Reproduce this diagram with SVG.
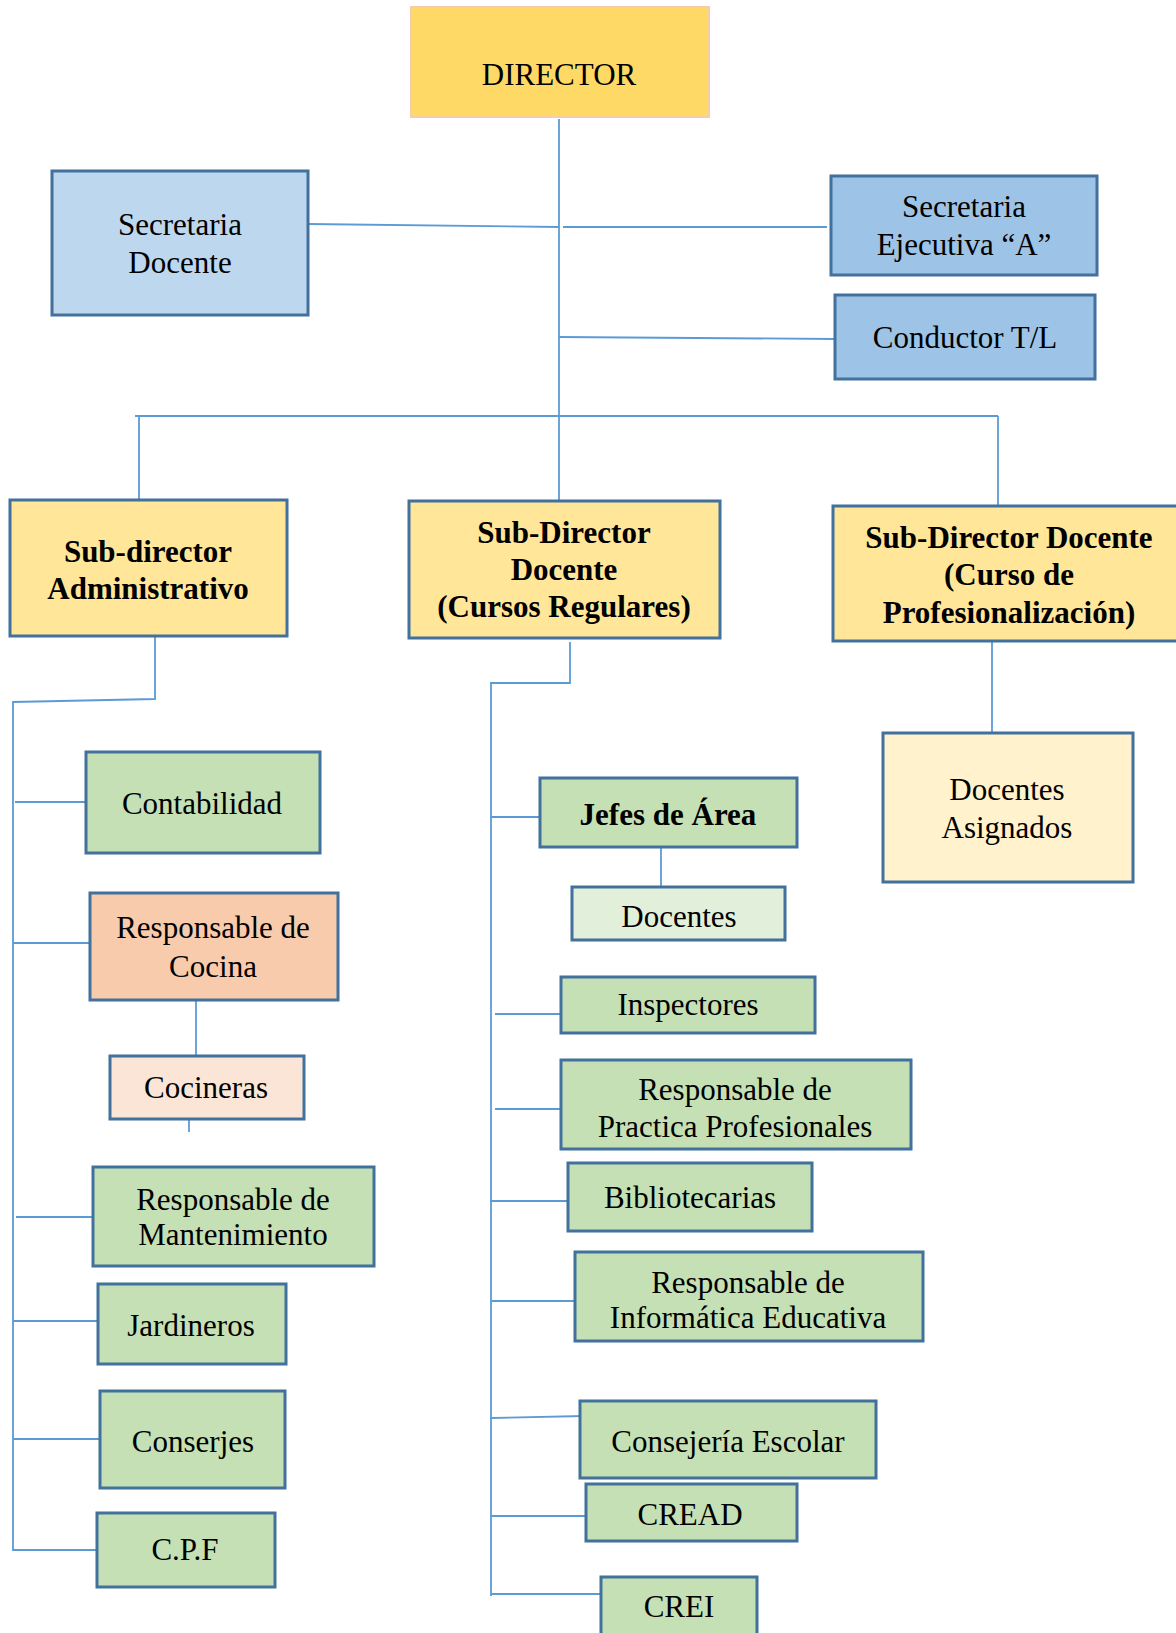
<svg xmlns="http://www.w3.org/2000/svg" width="1176" height="1633" viewBox="0 0 1176 1633">
<style>
.box{stroke:#41719C;stroke-width:3}
.g{fill:#C5E0B4}
.t{font-family:"Liberation Serif","Times New Roman",serif;font-size:31px;fill:#000;text-anchor:middle}
.b{font-weight:bold}
.c{fill:none;stroke:#5B9BD5;stroke-width:1.8}
</style>
<rect width="1176" height="1633" fill="#fff"/>
<g id="connectors">
<path class="c" d="M559 119V500"/>
<path class="c" d="M308 224L559 227"/>
<path class="c" d="M563 227H827"/>
<path class="c" d="M559 337L835 339"/>
<path class="c" d="M135 416H998"/>
<path class="c" d="M139 416V500"/>
<path class="c" d="M998 416V506"/>
<path class="c" d="M992 641V733"/>
<path class="c" d="M155 636V699L13 702V1551"/>
<path class="c" d="M15 802H86"/>
<path class="c" d="M13 943H90"/>
<path class="c" d="M196 1000V1056"/>
<path class="c" d="M189 1119V1132"/>
<path class="c" d="M16 1217H93"/>
<path class="c" d="M13 1321H98"/>
<path class="c" d="M13 1439H104"/>
<path class="c" d="M13 1550H97"/>
<path class="c" d="M570 642V683H491V1596"/>
<path class="c" d="M491 817H540"/>
<path class="c" d="M661 847V887"/>
<path class="c" d="M495 1014H561"/>
<path class="c" d="M495 1109H561"/>
<path class="c" d="M490 1201H568"/>
<path class="c" d="M491 1301H575"/>
<path class="c" d="M491 1418L584 1416"/>
<path class="c" d="M491 1516H590"/>
<path class="c" d="M491 1594H601"/>
</g>
<g id="director"><rect x="411" y="7" width="298" height="110" fill="#FFD966" stroke="#F8CBAD" stroke-width="2"/><text class="t" x="559" y="85">DIRECTOR</text></g>
<g id="secretaria-docente"><rect class="box" x="52" y="171" width="256" height="144" fill="#BDD7EE"/><text class="t" x="180" y="235">Secretaria</text><text class="t" x="180" y="273">Docente</text></g>
<g id="secretaria-ejecutiva"><rect class="box" x="831" y="176" width="266" height="99" fill="#9DC3E6"/><text class="t" x="964" y="217">Secretaria</text><text class="t" x="964" y="255">Ejecutiva “A”</text></g>
<g id="conductor"><rect class="box" x="835" y="295" width="260" height="84" fill="#9DC3E6"/><text class="t" x="965" y="348">Conductor T/L</text></g>
<g id="subdir-admin"><rect class="box" x="10" y="500" width="277" height="136" fill="#FFE699"/><text class="t b" x="148" y="562">Sub-director</text><text class="t b" x="148" y="599">Administrativo</text></g>
<g id="subdir-regulares"><rect class="box" x="409" y="501" width="311" height="137" fill="#FFE699"/><text class="t b" x="564" y="543">Sub-Director</text><text class="t b" x="564" y="580">Docente</text><text class="t b" x="564" y="617">(Cursos Regulares)</text></g>
<g id="subdir-prof"><rect class="box" x="833" y="506" width="350" height="135" fill="#FFE699"/><text class="t b" x="1009" y="548">Sub-Director Docente</text><text class="t b" x="1009" y="585">(Curso de</text><text class="t b" x="1009" y="623">Profesionalización)</text></g>
<g id="docentes-asignados"><rect class="box" x="883" y="733" width="250" height="149" fill="#FFF2CC"/><text class="t" x="1007" y="800">Docentes</text><text class="t" x="1007" y="838">Asignados</text></g>
<g id="contabilidad"><rect class="box g" x="86" y="752" width="234" height="101"/><text class="t" x="202" y="814">Contabilidad</text></g>
<g id="resp-cocina"><rect class="box" x="90" y="893" width="248" height="107" fill="#F8CBAD"/><text class="t" x="213" y="938">Responsable de</text><text class="t" x="213" y="977">Cocina</text></g>
<g id="cocineras"><rect class="box" x="110" y="1056" width="194" height="63" fill="#FBE5D6"/><text class="t" x="206" y="1098">Cocineras</text></g>
<g id="resp-mantenimiento"><rect class="box g" x="93" y="1167" width="281" height="99"/><text class="t" x="233" y="1210">Responsable de</text><text class="t" x="233" y="1245">Mantenimiento</text></g>
<g id="jardineros"><rect class="box g" x="98" y="1284" width="188" height="80"/><text class="t" x="191" y="1336">Jardineros</text></g>
<g id="conserjes"><rect class="box g" x="100" y="1391" width="185" height="97"/><text class="t" x="193" y="1452">Conserjes</text></g>
<g id="cpf"><rect class="box g" x="97" y="1513" width="178" height="74"/><text class="t" x="185" y="1560">C.P.F</text></g>
<g id="jefes-area"><rect class="box g" x="540" y="778" width="257" height="69"/><text class="t b" x="668" y="825">Jefes de Área</text></g>
<g id="docentes"><rect class="box" x="572" y="887" width="213" height="53" fill="#E2EFDA"/><text class="t" x="679" y="927">Docentes</text></g>
<g id="inspectores"><rect class="box g" x="561" y="977" width="254" height="56"/><text class="t" x="688" y="1015">Inspectores</text></g>
<g id="resp-practica"><rect class="box g" x="561" y="1060" width="350" height="89"/><text class="t" x="735" y="1100">Responsable de</text><text class="t" x="735" y="1137">Practica Profesionales</text></g>
<g id="bibliotecarias"><rect class="box g" x="568" y="1163" width="244" height="68"/><text class="t" x="690" y="1208">Bibliotecarias</text></g>
<g id="resp-informatica"><rect class="box g" x="575" y="1252" width="348" height="89"/><text class="t" x="748" y="1293">Responsable de</text><text class="t" x="748" y="1328">Informática Educativa</text></g>
<g id="consejeria"><rect class="box g" x="580" y="1401" width="296" height="77"/><text class="t" x="728" y="1452">Consejería Escolar</text></g>
<g id="cread"><rect class="box g" x="586" y="1484" width="211" height="57"/><text class="t" x="690" y="1525">CREAD</text></g>
<g id="crei"><rect class="box g" x="601" y="1577" width="156" height="70"/><text class="t" x="679" y="1617">CREI</text></g>
</svg>
